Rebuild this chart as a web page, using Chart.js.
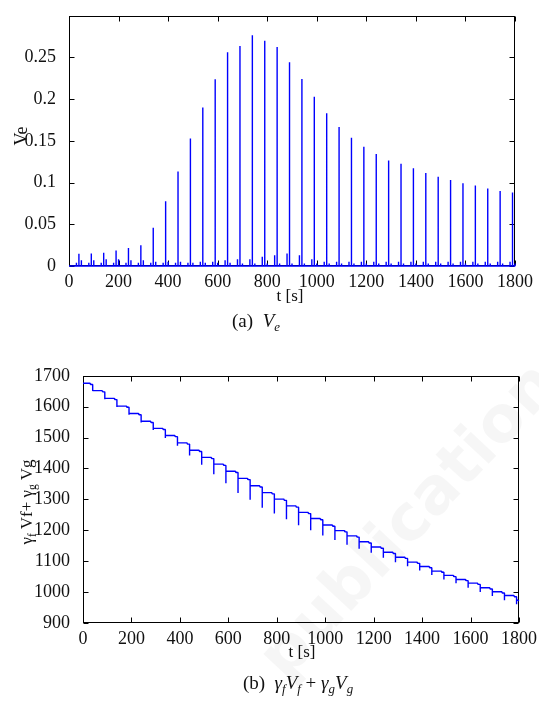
<!DOCTYPE html>
<html>
<head>
<meta charset="utf-8">
<script src="https://cdn.jsdelivr.net/npm/chart.js@4.4.1/dist/chart.umd.min.js"></script>
<style>
    body { margin: 0; width: 539px; height: 704px; position: relative; overflow: hidden; background: #fff;
           font-family: 'Liberation Serif', 'Times New Roman', serif; color: #111; }
    canvas { position: absolute; left: 0; }
    .lbl { position: absolute; font-size: 17px; white-space: nowrap; transform: translate(-50%, -50%); }
    .ylab { transform: translate(-50%, -50%) rotate(-90deg); }
    .cap { font-size: 19px; }
    sub { font-size: 68%; vertical-align: -0.3em; line-height: 1; }
    .wm { position: absolute; font-family: 'DejaVu Sans', sans-serif; font-weight: bold; font-size: 64px;
          color: rgba(0,0,0,0.035); white-space: nowrap; transform: translate(-50%, -50%) rotate(-47deg); }
</style>
</head>
<body>
<div class="wm" style="left:420px; top:505px;">publications</div>

<canvas id="veChart" width="539" height="290" style="top:0"></canvas>
<canvas id="gammaChart" width="539" height="290" style="top:360px"></canvas>

<div class="lbl ylab" style="left:21px; top:136px; font-size:18px;">Ve</div>
<div class="lbl" style="left:290px; top:296px;">t [s]</div>
<div class="lbl cap" style="left:256px; top:322px;">(a)&nbsp; <i>V<sub>e</sub></i></div>

<div class="lbl ylab" style="left:28px; top:502px;">γ<sub>f</sub> Vf+ γ<sub>g</sub> Vg</div>
<div class="lbl" style="left:302px; top:652px;">t [s]</div>
<div class="lbl cap" style="left:298px; top:684px;">(b)&nbsp; <i>γ<sub>f</sub>V<sub>f</sub></i> + <i>γ<sub>g</sub>V<sub>g</sub></i></div>

<script>
// time of each control event [s]
const eventTimes = [40, 90, 140, 190, 240, 290, 340, 390, 440, 490, 540, 590, 640, 690, 740, 790, 840, 890,
                    940, 990, 1040, 1090, 1140, 1190, 1240, 1290, 1340, 1390, 1440, 1490, 1540, 1590, 1640, 1690, 1740, 1790];

// (a) Ve: main spike height, small bump just before and just after each event
const veSpike = [0.0147, 0.015, 0.016, 0.0185, 0.0216, 0.025, 0.046, 0.0775, 0.1134, 0.1528, 0.190, 0.2238,
                 0.2562, 0.2639, 0.2766, 0.270, 0.2627, 0.2442, 0.2242, 0.2029, 0.1833, 0.1667, 0.1539, 0.1431,
                 0.1343, 0.1265, 0.1227, 0.1173, 0.1115, 0.1069, 0.103, 0.0992, 0.0965, 0.093, 0.0899, 0.088];
const veBumpBefore = [0.004, 0.004, 0.004, 0.004, 0.004, 0.004, 0.004, 0.004, 0.004, 0.004, 0.005, 0.005,
                      0.007, 0.008, 0.008, 0.011, 0.013, 0.015, 0.013, 0.008, 0.005, 0.005, 0.005, 0.005,
                      0.005, 0.005, 0.005, 0.005, 0.005, 0.005, 0.005, 0.005, 0.005, 0.005, 0.005, 0.005];
const veBumpAfter = [0.007, 0.007, 0.008, 0.008, 0.007, 0.007, 0.005, 0.005, 0.005, 0.004, 0.004, 0.004,
                     0.004, 0.003, 0.003, 0.003, 0.003, 0.003, 0.003, 0.003, 0.003, 0.003, 0.003, 0.003,
                     0.003, 0.003, 0.003, 0.003, 0.003, 0.003, 0.003, 0.003, 0.003, 0.003, 0.003, 0.003];

// (b) gamma_f Vf + gamma_g Vg: level at t=0, level just before each drop, dip minimum, level after
const gStart = 1676;
const gBeforeDrop = [1672, 1648, 1623, 1598, 1574, 1549, 1526, 1503, 1479, 1455, 1432, 1410, 1387, 1364, 1340, 1318, 1297, 1275,
                     1254, 1234, 1213, 1195, 1178, 1159, 1142, 1125, 1109, 1093, 1079, 1064, 1050, 1037, 1025, 1010, 997, 985];
const gDip = [1652, 1624, 1599, 1574, 1549, 1525, 1499, 1474, 1442, 1412, 1381, 1352, 1321, 1299, 1273, 1254, 1236, 1216,
              1200, 1183, 1169, 1153, 1140, 1127, 1111, 1097, 1084, 1070, 1055, 1041, 1029, 1014, 1000, 987, 974, 961];
const gAfter = [1652, 1627, 1602, 1578, 1553, 1530, 1507, 1483, 1459, 1436, 1414, 1391, 1368, 1344, 1322, 1301, 1279, 1258,
                1238, 1217, 1199, 1182, 1163, 1146, 1129, 1113, 1097, 1083, 1068, 1054, 1041, 1029, 1014, 1001, 989, 976];
const gEnd = 972;

const veTicks = [0, 0.05, 0.1, 0.15, 0.2, 0.25];
const gTicks = [900, 1000, 1100, 1200, 1300, 1400, 1500, 1600, 1700];
const timeTicks = [0, 200, 400, 600, 800, 1000, 1200, 1400, 1600, 1800];

const BLUE = '#0000ff';
const FONT = { family: "'Liberation Serif', 'Times New Roman', serif", size: 18 };

// Ve trace: zero baseline with thin spikes
const vePoints = [{ x: 0, y: 0 }];
eventTimes.forEach((t, i) => {
    vePoints.push({ x: t - 10, y: 0 }, { x: t - 10, y: veBumpBefore[i] }, { x: t - 10, y: 0 });
    vePoints.push({ x: t, y: 0 }, { x: t, y: veSpike[i] }, { x: t, y: 0 });
    vePoints.push({ x: t + 10, y: 0 }, { x: t + 10, y: veBumpAfter[i] }, { x: t + 10, y: 0 });
});
vePoints.push({ x: 1800, y: 0 });

// staircase trace
const gPoints = [{ x: 0, y: gStart }];
eventTimes.forEach((t, i) => {
    const prev = i === 0 ? gStart : gAfter[i - 1];
    gPoints.push({ x: t - 11, y: prev }, { x: t - 9, y: gBeforeDrop[i] }, { x: t, y: gBeforeDrop[i] });
    gPoints.push({ x: t, y: gDip[i] }, { x: t, y: gAfter[i] });
});
gPoints.push({ x: 1800, y: gEnd });

// frame with inward ticks on all four sides (matlab style)
const frameTicks = {
    id: 'frameTicks',
    beforeDatasetsDraw(chart) {
        const { ctx, chartArea: a, scales: { x, y } } = chart;
        const L = Math.round(a.left) + 0.5, R = Math.round(a.right) - 0.5;
        const T = Math.round(a.top) + 0.5, B = Math.round(a.bottom) - 0.5;
        ctx.save();
        ctx.strokeStyle = '#000';
        ctx.lineWidth = 1;
        ctx.strokeRect(L, T, R - L, B - T);
        ctx.beginPath();
        x.ticks.forEach(tk => {
            const px = Math.round(x.getPixelForValue(tk.value)) + 0.5;
            ctx.moveTo(px, B); ctx.lineTo(px, B - 5);
            ctx.moveTo(px, T); ctx.lineTo(px, T + 5);
        });
        y.ticks.forEach(tk => {
            const py = Math.round(y.getPixelForValue(tk.value)) + 0.5;
            ctx.moveTo(L, py); ctx.lineTo(L + 5, py);
            ctx.moveTo(R, py); ctx.lineTo(R - 5, py);
        });
        ctx.stroke();
        ctx.restore();
    }
};

function makeChart(id, points, yMin, yMax, yTickList, yWidth, pad) {
    return new Chart(document.getElementById(id), {
        type: 'line',
        data: {
            datasets: [{
                data: points,
                borderColor: BLUE,
                borderWidth: 1.4,
                borderJoinStyle: 'bevel',
                pointRadius: 0,
                tension: 0,
                clip: false
            }]
        },
        options: {
            responsive: false,
            animation: false,
            devicePixelRatio: 1,
            layout: { padding: pad },
            plugins: { legend: { display: false }, tooltip: { enabled: false } },
            scales: {
                x: {
                    type: 'linear',
                    min: 0, max: 1800,
                    grid: { display: false },
                    border: { display: false },
                    afterBuildTicks: s => { s.ticks = timeTicks.map(v => ({ value: v })); },
                    afterFit: s => { s.height = 24; },
                    ticks: { font: FONT, color: '#111', padding: -3, maxRotation: 0, autoSkip: false,
                             callback: v => String(v) }
                },
                y: {
                    min: yMin, max: yMax,
                    grid: { display: false },
                    border: { display: false },
                    afterBuildTicks: s => { s.ticks = yTickList.map(v => ({ value: v })); },
                    afterFit: s => { s.width = yWidth; },
                    ticks: { font: FONT, color: '#111', padding: 5, autoSkip: false,
                             callback: v => String(v) }
                }
            }
        },
        plugins: [frameTicks]
    });
}

makeChart('veChart', vePoints, 0, 0.3, veTicks, 69, { top: 7, right: 24, left: 0, bottom: 0 });
makeChart('gammaChart', gPoints, 900, 1700, gTicks, 83, { top: 11, right: 20, left: 0, bottom: 3 });
</script>
</body>
</html>
